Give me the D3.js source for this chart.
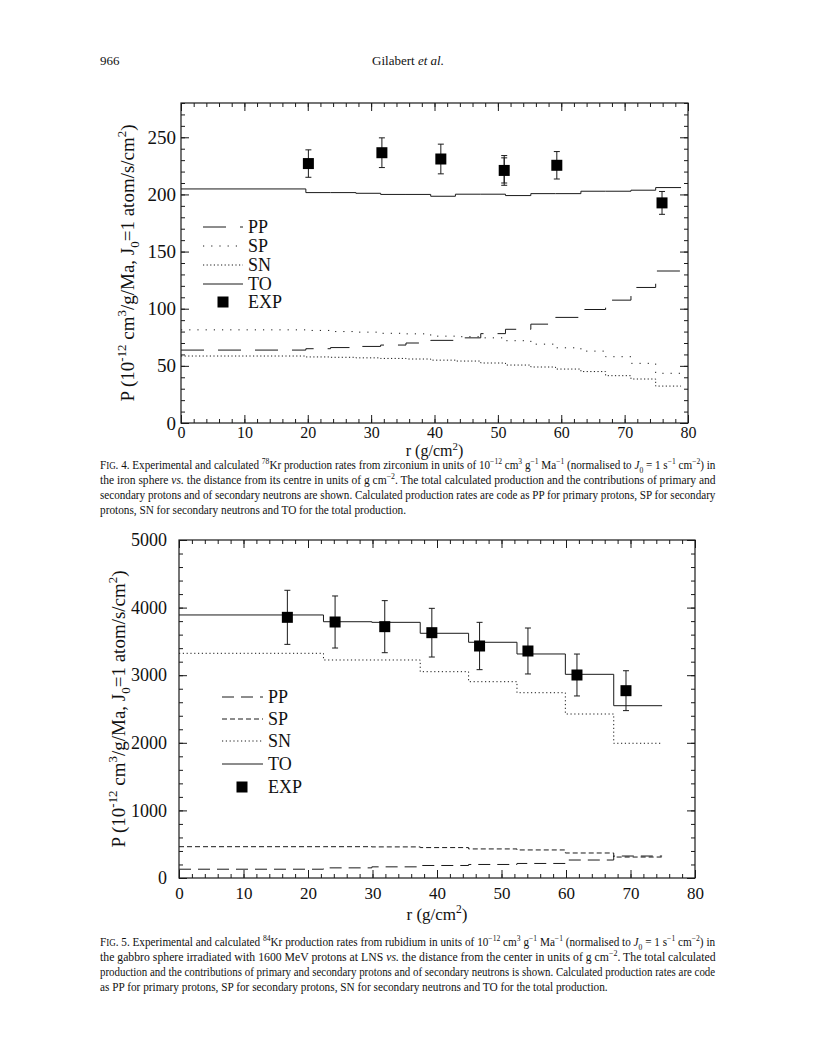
<!DOCTYPE html>
<html>
<head>
<meta charset="utf-8">
<script src="https://cdn.jsdelivr.net/npm/d3@7"></script>
<style>
  body { margin: 0; background: #fff; }
  svg text { font-family: "Liberation Serif", "Times New Roman", serif; fill: #111; }
</style>
</head>
<body>
<svg id="page" width="816" height="1055"></svg>
<script>
// ---- fig 4 : 78Kr from zirconium (iron sphere) ----
var edges4 = [0, 19.7, 23.6, 27.6, 31.5, 35.5, 39.4, 43.3, 47.3, 51.2, 55.2, 59.1, 63.1, 67.0, 71.0, 74.9, 78.9];
var pp4 = [63.8, 65, 66, 67, 68.2, 70, 72.3, 74.5, 78.2, 82, 86.5, 92.4, 99.3, 107.5, 118.6, 133];
var sp4 = [81.5, 81, 80, 79.5, 78.5, 78, 76, 75.5, 74.5, 72, 69, 65.8, 62.9, 58, 52.2, 43.5];
var sn4 = [58.6, 57.8, 57.5, 57, 56.5, 56, 55, 54.2, 52.5, 50.7, 49, 47.2, 45, 41.4, 38.5, 32.3];
var to4 = [204.8, 201.6, 201.6, 201, 200, 200, 198.4, 200.2, 200.2, 199, 200.7, 200.7, 202.8, 202.8, 203.7, 206];
var expR4 = [20.1, 31.7, 41.0, 51.0, 59.3, 75.9];
var expP4 = [227, 236.5, 231, 221, 225.5, 192.6];
var expErr4 = [12, 13, 13, 13, 12, 10];
var expErrB4 = [0, 0, 0, 11, 0, 0];   // 2nd set of caps on the 51 g/cm2 point
var yTicks4 = [0, 50, 100, 150, 200, 250];

// ---- fig 5 : 84Kr from rubidium (gabbro sphere) ----
var edges5 = [0, 22.4, 29.9, 37.4, 44.9, 52.4, 59.9, 67.4, 74.9];
var pp5 = [130, 150, 165, 185, 200, 215, 266, 325];
var sp5 = [463, 463, 460, 450, 430, 415, 370, 310];
var sn5 = [3324, 3225, 3225, 3052, 2904, 2741, 2426, 1993];
var to5 = [3891, 3791, 3782, 3620, 3487, 3314, 3013, 2549];
var expR5 = [16.8, 24.2, 31.9, 39.2, 46.6, 54.1, 61.7, 69.3];
var expP5 = [3856, 3787, 3718, 3629, 3432, 3358, 3003, 2771];
var expErr5 = [400, 385, 385, 360, 350, 340, 310, 295];
var yTicks5 = [0, 1000, 2000, 3000, 4000, 5000];

var xTicks = [0, 10, 20, 30, 40, 50, 60, 70, 80];
var legendNames = ["PP", "SP", "SN", "TO", "EXP"];

var svg = d3.select("#page");
var ink = "#1a1a1a";

// text with super/subscripts, italics and small caps
function rich(t, segs, base) {
  var shift = 0;
  segs.forEach(function (s) {
    var txt = s, k = "";
    if (Array.isArray(s)) { txt = s[0]; k = s[1]; }
    var want = k == "sup" ? -0.4 : k == "sub" ? 0.28 : 0;
    var ts = t.append("tspan").text(txt);
    if (want != shift) { ts.attr("dy", ((want - shift) * base) + "px"); shift = want; }
    if (k == "sup" || k == "sub") ts.attr("font-size", (base * 0.68) + "px");
    if (k == "i") ts.attr("font-style", "italic");
    if (k == "sc") ts.attr("font-size", (base * 0.8) + "px");
  });
  return t;
}

function steps(edges, vals) {
  var pts = vals.map(function (v, i) { return [edges[i], v]; });
  pts.push([edges[edges.length - 1], vals[vals.length - 1]]);
  return pts;
}

function panel(o) {
  var g = svg.append("g");
  var x = d3.scaleLinear().domain([0, 80]).range(o.xr);
  var y = d3.scaleLinear().domain([0, o.ymax]).range(o.yr);

  function ax(gen, tx, ty, vals, size, fs, pad) {
    var a = g.append("g").attr("transform", "translate(" + tx + "," + ty + ")")
      .call(gen.tickValues(vals).tickSize(-size).tickPadding(pad || 3)
        .tickFormat(fs ? d3.format("d") : ""));
    a.select(".domain").remove();
    a.selectAll("line").attr("stroke", ink).attr("stroke-width", 1);
    a.attr("font-family", null).attr("font-size", null);
    if (fs) a.selectAll("text").attr("font-size", fs + "px").attr("fill", "#111");
    else a.selectAll("text").remove();
    return a;
  }
  var xMinor = d3.range(0, 80.1, 2), yMinor = d3.range(0, o.ymax + 0.1, o.yMinor);
  ax(d3.axisBottom(x), 0, o.yr[0], xMinor, 4);
  ax(d3.axisBottom(x), 0, o.yr[0], xTicks, 8, o.fsX, o.padX);
  ax(d3.axisTop(x), 0, o.yr[1], xMinor, 4);
  ax(d3.axisTop(x), 0, o.yr[1], xTicks, 8);
  ax(d3.axisLeft(y), o.xr[0], 0, yMinor, 4);
  ax(d3.axisLeft(y), o.xr[0], 0, o.yTicks, 8, o.fsY, o.padY);
  ax(d3.axisRight(y), o.xr[1], 0, yMinor, 4);
  ax(d3.axisRight(y), o.xr[1], 0, o.yTicks, 8);

  g.append("rect").attr("x", o.xr[0]).attr("y", o.yr[1])
    .attr("width", o.xr[1] - o.xr[0]).attr("height", o.yr[0] - o.yr[1])
    .attr("fill", "none").attr("stroke", ink).attr("stroke-width", 1.2);

  var line = d3.line().x(function (d) { return x(d[0]); }).y(function (d) { return y(d[1]); })
    .curve(d3.curveStepAfter);
  o.series.forEach(function (s) {
    g.append("path").attr("d", line(steps(o.edges, s.v)))
      .attr("fill", "none").attr("stroke", ink).attr("stroke-width", s.w || 1)
      .attr("stroke-dasharray", s.dash);
  });

  // experimental points
  o.exp.r.forEach(function (r, i) {
    var cx = x(r), v = o.exp.p[i];
    [o.exp.e[i], o.exp.e2 ? o.exp.e2[i] : 0].forEach(function (e) {
      if (!e) return;
      g.append("line").attr("x1", cx).attr("x2", cx).attr("y1", y(v - e)).attr("y2", y(v + e))
        .attr("stroke", ink);
      [v - e, v + e].forEach(function (c) {
        g.append("line").attr("x1", cx - 3).attr("x2", cx + 3).attr("y1", y(c)).attr("y2", y(c))
          .attr("stroke", ink);
      });
    });
    g.append("rect").attr("x", cx - 5.5).attr("y", y(v) - 5.5).attr("width", 11).attr("height", 11)
      .attr("fill", "#000");
  });

  // legend
  var lg = o.legend;
  legendNames.forEach(function (name, i) {
    var ly = lg.rows[i];
    if (i < 4) {
      var s = o.series[i];
      g.append("line").attr("x1", lg.x0).attr("x2", lg.x1).attr("y1", ly).attr("y2", ly)
        .attr("stroke", ink).attr("stroke-dasharray", s.dash);
    } else {
      g.append("rect").attr("x", lg.mx - 5.5).attr("y", ly - 5.5).attr("width", 11).attr("height", 11)
        .attr("fill", "#000");
    }
    g.append("text").attr("x", lg.tx).attr("y", ly + 6).attr("font-size", lg.fs + "px").text(name);
  });

  // axis titles
  var xl = g.append("text").attr("x", (o.xr[0] + o.xr[1]) / 2).attr("y", o.xlabY)
    .attr("text-anchor", "middle").attr("font-size", o.fsLab + "px");
  rich(xl, ["r (g/cm", ["2", "sup"], ")"], o.fsLab);
  var yl = g.append("text").attr("transform", "translate(" + o.ylabX + "," + ((o.yr[0] + o.yr[1]) / 2) + ") rotate(-90)")
    .attr("text-anchor", "middle").attr("font-size", o.ylfs + "px");
  rich(yl, ["P (10", ["-12", "sup"], " cm", ["3", "sup"], "/g/Ma, J", ["0", "sub"], "=1 atom/s/cm", ["2", "sup"], ")"], o.ylfs);
}

panel({
  xr: [181, 688], yr: [423, 103], ymax: 280, yTicks: yTicks4, yMinor: 10,
  fsX: 16, fsY: 19, fsLab: 16, ylfs: 19, padX: 4, padY: 5,
  edges: edges4,
  series: [
    { v: pp4, dash: "23,14" },
    { v: sp4, dash: "1.2,7" },
    { v: sn4, dash: "1.2,2.4" },
    { v: to4, dash: null }
  ],
  exp: { r: expR4, p: expP4, e: expErr4, e2: expErrB4 },
  legend: { x0: 203, x1: 243, tx: 248, mx: 223, fs: 18, rows: [227, 246, 265, 284, 302] },
  xlabY: 456, ylabX: 134
});

panel({
  xr: [179, 695], yr: [878, 540], ymax: 5000, yTicks: yTicks5, yMinor: 200,
  fsX: 17, fsY: 18, fsLab: 17, ylfs: 19, padX: 9, padY: 12,
  edges: edges5,
  series: [
    { v: pp5, dash: "12,7" },
    { v: sp5, dash: "5,3" },
    { v: sn5, dash: "1.2,2.6" },
    { v: to5, dash: null }
  ],
  exp: { r: expR5, p: expP5, e: expErr5 },
  legend: { x0: 222, x1: 263, tx: 268, mx: 242, fs: 18, rows: [697, 719, 741, 764, 787] },
  xlabY: 920, ylabX: 125
});

// ---- page header ----
svg.append("text").attr("x", 100).attr("y", 65).attr("font-size", "13px").text("966");
rich(svg.append("text").attr("x", 408).attr("y", 65).attr("text-anchor", "middle").attr("font-size", "13px"),
  ["Gilabert ", ["et al.", "i"]], 13);

// ---- captions ----
var cap4 = [
  ["F", ["IG", "sc"], ". 4.  Experimental and calculated ", ["78", "sup"], "Kr production rates from zirconium in units of 10", ["\u221212", "sup"], " cm", ["3", "sup"], " g", ["\u22121", "sup"], " Ma", ["\u22121", "sup"], " (normalised to ", ["J", "i"], ["0", "sub"], " = 1 s", ["\u22121", "sup"], " cm", ["\u22122", "sup"], ") in"],
  ["the iron sphere ", ["vs.", "i"], " the distance from its centre in units of g cm", ["\u22122", "sup"], ".  The total calculated production and the contributions of primary and"],
  ["secondary protons and of secondary neutrons are shown.  Calculated production rates are code as PP for primary protons, SP for secondary"],
  ["protons, SN for secondary neutrons and TO for the total production."]
];
var cap5 = [
  ["F", ["IG", "sc"], ". 5.  Experimental and calculated ", ["84", "sup"], "Kr production rates from rubidium in units of 10", ["\u221212", "sup"], " cm", ["3", "sup"], " g", ["\u22121", "sup"], " Ma", ["\u22121", "sup"], " (normalised to ", ["J", "i"], ["0", "sub"], " = 1 s", ["\u22121", "sup"], " cm", ["\u22122", "sup"], ") in"],
  ["the gabbro sphere irradiated with 1600 MeV protons at LNS ", ["vs.", "i"], " the distance from the center in units of g cm", ["\u22122", "sup"], ".  The total calculated"],
  ["production and the contributions of primary and secondary protons and of secondary neutrons is shown.  Calculated production rates are code"],
  ["as PP for primary protons, SP for secondary protons, SN for secondary neutrons and TO for the total production."]
];

// condensed, justified caption: squeeze each line horizontally to the text block width
function caption(lines, y0) {
  var texts = lines.map(function (segs, i) {
    return rich(svg.append("text").attr("x", 0).attr("y", 0).attr("font-size", "12.5px"), segs, 12.5);
  });
  var widths = texts.map(function (t) { return t.node().getComputedTextLength(); });
  var avg = d3.mean(widths.slice(0, 3), function (w) { return 616 / w; });
  texts.forEach(function (t, i) {
    var sx = i < 3 ? 616 / widths[i] : avg;
    t.attr("transform", "translate(100," + (y0 + i * 15) + ") scale(" + sx + ",1)");
  });
}
caption(cap4, 469);
caption(cap5, 946);
</script>
</body>
</html>
